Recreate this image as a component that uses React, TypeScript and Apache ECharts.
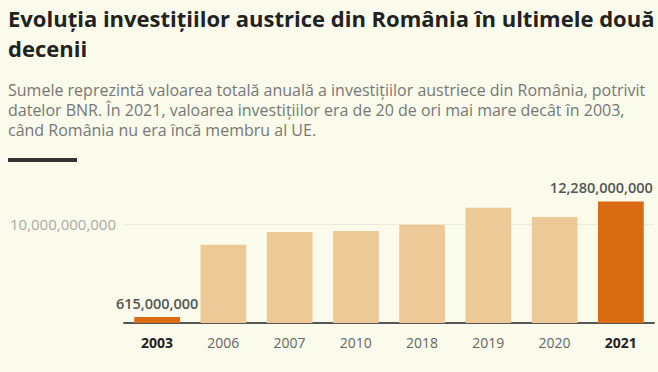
import { useEffect, useRef } from 'react';
import * as echarts from 'echarts';

const years = ['2003', '2006', '2007', '2010', '2018', '2019', '2020', '2021'];
const investments = [615000000, 7900000000, 9200000000, 9300000000, 9930000000, 11650000000, 10700000000, 12280000000];
const highlightedYears = ['2003', '2021'];
const labelledYears = ['2003', '2021'];
const yTickValues = [10000000000];
const titleText = 'Evoluția investițiilor austrice din România în ultimele două\ndecenii';
const subtitleText =
  'Sumele reprezintă valoarea totală anuală a investițiilor austriece din România, potrivit\n' +
  'datelor BNR. În 2021, valoarea investițiilor era de 20 de ori mai mare decât în 2003,\n' +
  'când România nu era încă membru al UE.';

const BG = '#fafbea';
const FONT = '"Open Sans", "Noto Sans", sans-serif';
const fmt = (v: number) => v.toLocaleString('en-US');

export default function App() {
  const ref = useRef<HTMLDivElement>(null);
  useEffect(() => {
    if (!ref.current) return;
    const chart = echarts.init(ref.current, null, { renderer: 'svg' });
    const data = years.map((y, i) => {
      const hl = highlightedYears.includes(y);
      const item: any = {
        value: investments[i],
        itemStyle: { color: hl ? '#d96b12' : '#ecc997' },
      };
      if (labelledYears.includes(y)) {
        const last = i === years.length - 1;
        item.label = {
          show: true,
          position: 'top',
          distance: 6,
          formatter: (p: any) => fmt(p.value),
          color: '#555',
          fontSize: 14.5,
          fontWeight: 600,
          fontFamily: FONT,
          textBorderColor: BG,
          textBorderWidth: 3,
          align: last ? 'right' : 'center',
          offset: last ? [32, 0] : [0, 0],
        };
      }
      return item;
    });
    chart.setOption({
      animation: false,
      backgroundColor: BG,
      textStyle: { fontFamily: FONT },
      title: [
        {
          text: titleText,
          left: 8,
          top: 3,
          padding: 0,
          textStyle: { fontSize: 22, fontWeight: 700, color: '#222', lineHeight: 30, fontFamily: FONT },
        },
        {
          text: subtitleText,
          left: 8,
          top: 80,
          padding: 0,
          textStyle: { fontSize: 16, fontWeight: 400, color: '#777', lineHeight: 20, fontFamily: FONT },
        },
      ],
      graphic: [
        { type: 'rect', shape: { x: 8, y: 158, width: 69, height: 4 }, style: { fill: '#333' } },
      ],
      grid: { left: 124, right: 4, top: 125, bottom: 49, containLabel: false },
      xAxis: {
        type: 'category',
        data: years,
        axisLine: { lineStyle: { color: '#555', width: 2 } },
        axisTick: { alignWithLabel: true, length: 4, lineStyle: { color: '#555', width: 1 } },
        axisLabel: {
          margin: 12,
          formatter: (v: string) => (highlightedYears.includes(v) ? `{b|${v}}` : `{n|${v}}`),
          rich: {
            b: { fontSize: 14, fontWeight: 700, color: '#222', fontFamily: FONT },
            n: { fontSize: 14, fontWeight: 400, color: '#666', fontFamily: FONT },
          },
        },
      },
      yAxis: {
        type: 'value',
        min: 0,
        max: 20000000000,
        interval: 10000000000,
        axisLine: { show: false },
        axisTick: { show: false },
        axisLabel: {
          margin: 8,
          fontSize: 15,
          color: '#aaa',
          fontFamily: FONT,
          showMinLabel: false,
          showMaxLabel: false,
          formatter: (v: number) => (yTickValues.includes(v) ? fmt(v) : ''),
        },
        splitLine: { show: true, showMinLine: false, showMaxLine: false, lineStyle: { color: '#ebebdc', width: 1 } },
      },
      series: [
        {
          type: 'bar',
          data,
          barCategoryGap: '31%',
        },
      ],
    });
    return () => chart.dispose();
  }, []);
  return (
    <div
      ref={ref}
      style={{ position: 'fixed', left: 0, top: 0, width: 658, height: 372, background: BG }}
    />
  );
}
